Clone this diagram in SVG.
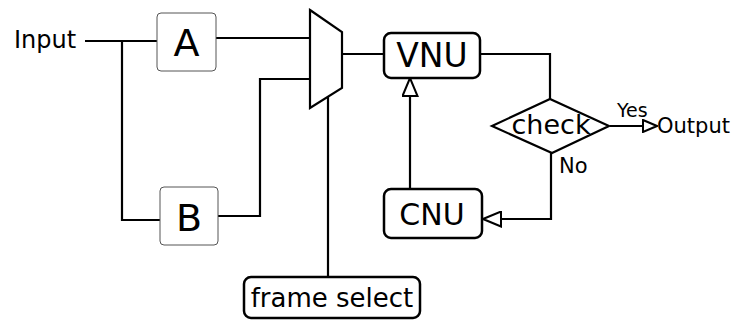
<svg xmlns="http://www.w3.org/2000/svg" width="735" height="320" viewBox="0 0 735 320">
<style>
text{font-family:"DejaVu Sans",sans-serif;fill:#000}
.w{fill:none;stroke:#000;stroke-width:2.2}
.bx{fill:#fff;stroke:#000;stroke-width:2.5}
.tb{fill:#fff;stroke:#555;stroke-width:1}
</style>
<defs>
<marker id="ah" markerWidth="16" markerHeight="14" viewBox="0 0 16 14" refX="15" refY="7" markerUnits="userSpaceOnUse" orient="auto">
<path d="M1,1 L15,7 L1,13 Z" fill="#fff" stroke="#000" stroke-width="2"/>
</marker>
<marker id="ah2" markerWidth="20" markerHeight="17" viewBox="0 0 20 17" refX="19" refY="8.5" markerUnits="userSpaceOnUse" orient="auto">
<path d="M1,1 L19,8.5 L1,16 Z" fill="#fff" stroke="#000" stroke-width="2"/>
</marker>
</defs>
<g id="connectors">
<path class="w" d="M85,41 H157"/>
<path class="w" d="M122,41 V220 H160"/>
<path class="w" d="M216,38 H310"/>
<path class="w" d="M218,216 H260 V79 H310"/>
<path class="w" d="M328,97 V277"/>
<path class="w" d="M342,54 H384"/>
<path class="w" d="M480,54 H550 V99"/>
<path class="w" d="M610,126 H657" marker-end="url(#ah)"/>
<path class="w" d="M551,153 V219 H483" marker-end="url(#ah2)"/>
<path class="w" d="M410,189 V78" marker-end="url(#ah2)"/>
</g>
<g id="input"><text x="14" y="48" font-size="24">Input</text></g>
<g id="A"><rect class="tb" x="157" y="13" width="59" height="58" rx="4"/><text x="186.5" y="56" font-size="38" text-anchor="middle">A</text></g>
<g id="B"><rect class="tb" x="160" y="187" width="58" height="58" rx="4"/><text x="189" y="231" font-size="38" text-anchor="middle">B</text></g>
<g id="mux"><path class="w" d="M310,10 L342,32 V88 L310,108 Z" fill="#fff"/></g>
<g id="VNU"><rect class="bx" x="384" y="33" width="96" height="45" rx="7"/><text x="432" y="67" font-size="33" text-anchor="middle">VNU</text></g>
<g id="CNU"><rect class="bx" x="384" y="189" width="98" height="49" rx="7"/><text x="432" y="225" font-size="30" text-anchor="middle">CNU</text></g>
<g id="check"><path class="w" d="M492,126 L550,99 L609,126 L552,153 Z" fill="#fff"/><text x="551" y="134" font-size="27" text-anchor="middle">check</text></g>
<g id="frame"><rect class="bx" x="244" y="277" width="176" height="41" rx="7"/><text x="332" y="307" font-size="26" text-anchor="middle">frame select</text></g>
<g id="labels">
<text x="617" y="117" font-size="19">Yes</text>
<text x="657" y="133" font-size="21">Output</text>
<text x="559" y="173" font-size="21">No</text>
</g>
</svg>
